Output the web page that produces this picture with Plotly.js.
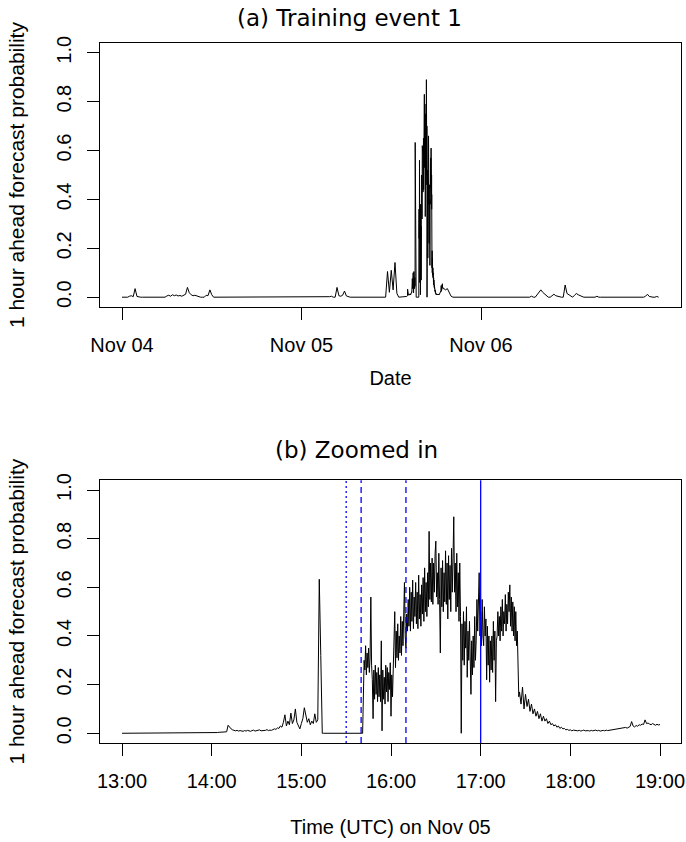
<!DOCTYPE html>
<html><head><meta charset="utf-8">
<script src="https://cdn.plot.ly/plotly-3.0.1.min.js"></script>
<style>html,body{margin:0;padding:0;background:#fff}</style>
</head><body><div id="chart" style="width:686px;height:842px"></div>
<script>
// ---------- DATA ----------
// Panel (b), part 1: 1-minute values, Nov 05 13:00 -> 15:41 UTC
const earlyStart = '2013-11-05T13:00:00Z';
const earlyProb = [
0,0,0,0,0,0,0,0,0,0,
0,0,0,0,0,0,0,0,0,0,
0,0,0,0,0,0,0,0,0,0,
0,0,0,0,0,0,0,0,0,0,
0,0,0,0,0,0,0,0,0,0,
0,0,0,0,0,0,0,0,0,0,
0,0,0,0,0.003,0.004,0.004,0.005,0.004,0.005,
0.006,0.033,0.025,0.018,0.014,0.012,0.010,0.012,0.009,0.011,
0.010,0.008,0.011,0.009,0.012,0.010,0.008,0.011,0.013,0.009,
0.010,0.012,0.014,0.010,0.011,0.009,0.012,0.015,0.011,0.013,
0.012,0.015,0.018,0.016,0.022,0.020,0.030,0.025,0.045,0.076,
0.030,0.050,0.035,0.083,0.040,0.055,0.100,0.045,0.030,0.018,
0.040,0.060,0.105,0.070,0.045,0.060,0.035,0.050,0.040,0.080,
0.045,0.055,0.633,0.320,0,0,0,0,0,0,
0,0,0,0,0,0,0,0,0,0,
0,0,0,0,0,0,0,0,0,0,
0,0
];
// Panel (b), part 2: 30-second values, Nov 05 15:42:00 -> 17:25:30 UTC
const peakStart = '2013-11-05T15:42:00Z';
const peakProb = [
0.30,0.26,0.36,0.24,0.33,0.27,0.35,0.25,0.31,0.56,
0.28,0.22,0.06,0.26,0.14,0.28,0.16,0.25,0.13,0.27,
0.15,0.24,0.13,0.38,0.01,0.26,0.14,0.23,0.12,0.28,
0.17,0.27,0.13,0.25,0.18,0.29,0.07,0.24,0.15,0.26,
0.30,0.50,0.27,0.42,0.31,0.45,0.30,0.40,0.33,0.48,
0.32,0.46,0.36,0.50,0.62,0.40,0.35,0.49,0.42,0.55,
0.44,0.60,0.42,0.58,0.46,0.63,0.43,0.56,0.48,0.62,
0.45,0.58,0.43,0.65,0.47,0.57,0.44,0.61,0.49,0.64,
0.46,0.68,0.50,0.62,0.48,0.66,0.52,0.83,0.55,0.70,
0.54,0.72,0.53,0.70,0.58,0.74,0.79,0.56,0.66,0.53,
0.74,0.55,0.33,0.68,0.52,0.71,0.50,0.66,0.54,0.75,
0.53,0.70,0.47,0.73,0.55,0.69,0.50,0.76,0.58,0.72,
0.89,0.58,0.70,0.50,0.74,0.52,0.66,0.46,0.70,0.48,
0.00,0.45,0.30,0.50,0.28,0.46,0.35,0.52,0.23,0.42,
0.30,0.46,0.22,0.16,0.38,0.24,0.40,0.27,0.48,0.30,
0.38,0.55,0.42,0.58,0.66,0.40,0.50,0.36,0.55,0.40,
0.36,0.52,0.40,0.47,0.22,0.44,0.28,0.40,0.21,0.38,
0.26,0.40,0.25,0.46,0.30,0.42,0.13,0.38,0.40,0.50,
0.40,0.48,0.38,0.52,0.42,0.55,0.40,0.50,0.45,0.57,
0.42,0.53,0.45,0.58,0.50,0.61,0.44,0.56,0.42,0.54,
0.40,0.52,0.38,0.50,0.36,0.42,0.20,0.15
];
// Panel (b), part 3: 1-minute values, Nov 05 17:26 -> 19:00 UTC
const lateStart = '2013-11-05T17:26:00Z';
const lateProb = [
0.17,0.12,0.19,0.10,0.16,0.11,0.14,0.09,0.12,0.08,
0.10,0.07,0.09,0.06,0.08,0.05,0.07,0.05,0.06,0.04,
0.05,0.035,0.04,0.03,0.035,0.025,0.03,0.02,0.025,0.018,
0.02,0.014,0.016,0.012,0.014,0.010,0.013,0.011,0.012,0.010,
0.012,0.009,0.011,0.013,0.010,0.012,0.011,0.009,0.012,0.010,
0.011,0.013,0.010,0.012,0.009,0.011,0.012,0.010,0.013,0.011,
0.012,0.014,0.013,0.015,0.016,0.018,0.016,0.020,0.019,0.022,
0.020,0.024,0.021,0.025,0.028,0.048,0.030,0.026,0.032,0.029,
0.035,0.033,0.038,0.036,0.055,0.040,0.042,0.038,0.035,0.040,
0.036,0.033,0.037,0.034,0.036
];
// Panel (a): 15-minute values outside the zoom window
const beforeStart = '2013-11-04T00:00:00Z';   // Nov 04 00:00 -> Nov 05 12:45
const beforeProb = [
0,0,0,0,0.004,0.006,0.002,0.035,0.003,0,
0,0,0,0,0,0,0.002,0.003,0.002,0.003,
0.002,0,0,0,0.005,0.008,0.004,0.010,0.006,0.009,
0.005,0.007,0.004,0.008,0.012,0.040,0.018,0.010,0.006,0.008,
0.005,0.003,0,0,0,0.008,0.006,0.030,0.010,0,
0,0,0,0,0,0,0,0,0,0,
0,0,0,0,0,0,0,0.003,0.002,0,
0,0,0,0,0,0,0,0,0,0,
0,0,0,0,0,0,0,0,0.003,0.002,
0.003,0,0,0,0,0,0,0,0,0,
0,0,0,0,0,0,0,0,0,0,
0.003,0.002,0.004,0,0,0.040,0.006,0.004,0.008,0.025,
0.005,0.002,0,0,0,0,0,0,0,0.003,
0,0,0,0,0,0,0,0,0,0,
0,0,0.105,0.020,0.110,0.030,0.142,0.016
];
const afterStart = '2013-11-05T19:15:00Z';    // Nov 05 19:15 -> Nov 06 23:45
const afterProb = [
0.030,0.035,0.020,0.004,0,0,0,0,0,0,
0,0,0,0,0,0,0,0,0,0,
0,0,0,0,0,0,0,0,0,0,
0,0,0,0,0,0,0,0,0,0,
0,0,0,0,0,0,0.004,0,0,0.010,
0.018,0.030,0.020,0.012,0.004,0,0,0.008,0.012,0.006,
0.004,0,0,0,0.050,0.015,0.010,0.004,0,0.008,
0.015,0.010,0.005,0.003,0,0,0,0,0,0,
0,0.004,0,0,0,0,0,0,0,0,
0,0.003,0,0,0,0.003,0,0,0.003,0,
0,0.003,0,0,0,0,0,0.004,0.012,0.003,
0,0,0,0.003,0
];
const dayTicks = ['2013-11-04','2013-11-05','2013-11-06'];
const dayTickText = ['Nov 04','Nov 05','Nov 06'];
const hourTicks = ['2013-11-05 13:00','2013-11-05 14:00','2013-11-05 15:00','2013-11-05 16:00','2013-11-05 17:00','2013-11-05 18:00','2013-11-05 19:00'];
const hourTickText = ['13:00','14:00','15:00','16:00','17:00','18:00','19:00'];
const probTicks = [0, 0.2, 0.4, 0.6, 0.8, 1.0];
const eventTimes = ['2013-11-05 15:30','2013-11-05 15:40','2013-11-05 16:10','2013-11-05 17:00'];

// ---------- BUILD ----------
const MIN = 60000, H = 60*MIN;
function fmt(ms){ return new Date(ms).toISOString().slice(0,19).replace('T',' '); }
function series(startIso, stepMin, vals){
  const t0 = Date.parse(startIso);
  return vals.map((v,i)=>fmt(t0 + i*stepMin*MIN));
}
const zoomX = series(earlyStart,1,earlyProb).concat(series(peakStart,0.5,peakProb), series(lateStart,1,lateProb));
const zoomY = earlyProb.concat(peakProb, lateProb);
const fullX = series(beforeStart,15,beforeProb).concat(zoomX, series(afterStart,15,afterProb));
const fullY = beforeProb.concat(zoomY, afterProb);

const tickFont = {family:'"Liberation Sans", Arial, sans-serif', size:20, color:'#000'};
const ytFont = {family:'"Liberation Sans", Arial, sans-serif', size:21, color:'#000'};
const titleFont = {family:'"DejaVu Sans", sans-serif', size:23, color:'#000'};

function xAxis(extra){
  return Object.assign({
    type:'date', showgrid:false, zeroline:false, showline:true, mirror:true,
    linecolor:'#000', linewidth:1, ticks:'outside', ticklen:12, tickwidth:1, tickcolor:'#000',
    tickfont:tickFont, ticklabelstandoff:8
  }, extra);
}
function yAxis(extra){
  return Object.assign({
    range:[-0.04,1.04], showgrid:false, zeroline:false, showline:true, mirror:true,
    linecolor:'#000', linewidth:1, ticks:'outside', ticklen:12, tickwidth:1, tickcolor:'#000',
    tickvals:probTicks, tickformat:'.1f', tickangle:-90, tickfont:tickFont, ticklabelstandoff:8,
    title:{text:'1 hour ahead forecast probability', font:ytFont, standoff:22}
  }, extra);
}

const t4 = Date.parse(beforeStart);
const t13 = Date.parse(earlyStart);

const traces = [
  {x:fullX, y:fullY, type:'scatter', mode:'lines', xaxis:'x', yaxis:'y',
   line:{color:'#000', width:1}, hoverinfo:'skip'},
  {x:zoomX, y:zoomY, type:'scatter', mode:'lines', xaxis:'x2', yaxis:'y2',
   line:{color:'#000', width:1}, hoverinfo:'skip'}
];

const dashes = ['2px,3px','6px,4px','6px,4px','solid'];
const shapes = eventTimes.map((t,i)=>({
  type:'line', xref:'x2', yref:'y2 domain', x0:t, x1:t, y0:0, y1:1,
  line:{color:'#0000ff', width:1.3, dash:dashes[i]}
}));

const layout = {
  width:686, height:842, showlegend:false,
  paper_bgcolor:'#fff', plot_bgcolor:'#fff',
  margin:{l:100, r:5, t:43, b:99},
  xaxis: xAxis({anchor:'y', range:[fmt(t4 - 2.941*H), fmt(t4 + 74.74*H)],
    tickvals:dayTicks, ticktext:dayTickText,
    title:{text:'Date', font:tickFont, standoff:16}}),
  yaxis: yAxis({anchor:'x', domain:[0.6229,1]}),
  xaxis2: xAxis({anchor:'y2', range:[fmt(t13 - 0.2453*H), fmt(t13 + 6.2342*H)],
    tickvals:hourTicks, ticktext:hourTickText,
    title:{text:'Time (UTC) on Nov 05', font:tickFont, standoff:28}}),
  yaxis2: yAxis({anchor:'x2', domain:[0,0.3753]}),
  shapes: shapes,
  annotations:[
    {text:'(a) Training event 1', xref:'paper', yref:'paper', x:0.43, y:1.0357,
     xanchor:'center', yanchor:'middle', showarrow:false, font:titleFont},
    {text:'(b) Zoomed in', xref:'paper', yref:'paper', x:0.4423, y:0.4186,
     xanchor:'center', yanchor:'middle', showarrow:false, font:titleFont}
  ]
};

Plotly.newPlot('chart', traces, layout, {displayModeBar:false, staticPlot:true});
</script>
</body></html>
